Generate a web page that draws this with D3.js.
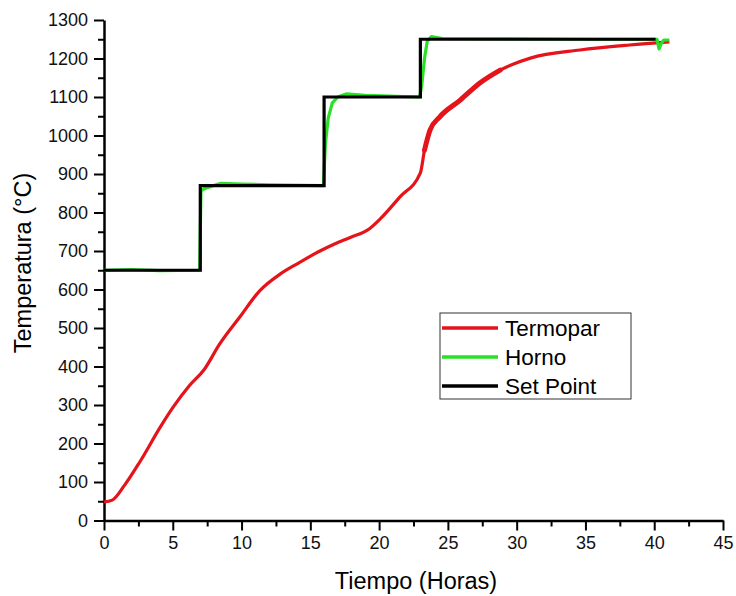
<!DOCTYPE html>
<html lang="es">
<head>
<meta charset="UTF-8">
<title>Temperatura</title>
<style>
    body { margin: 0; background: white; }
    svg { display: block; font-family: "Liberation Sans", Arial, sans-serif; }
</style>
</head>
<body>
<script src="https://d3js.org/d3.v7.min.js"></script>
<script>
// Termopar (thermocouple) reading
let termoT = [0, 0.6, 1.5, 2.6, 4.1, 5, 6.2, 7.3, 8.4, 9.9, 11.3, 12.8, 14.2, 15.7, 16.8, 17.9, 19.3, 20.1, 21.5, 23, 23.3, 23.7, 24.4, 25.9, 27.3, 28.8, 31, 34.6, 38.2, 41.1];
let termoV = [48, 53, 92, 152, 243, 293, 350, 393, 458, 530, 596, 640, 670, 700, 719, 735, 758, 784, 840, 903, 962, 1014, 1048, 1092, 1136, 1170, 1201, 1222, 1235, 1243];

// Horno (furnace) reading
let hornoT = [0, 2, 4, 6.95, 7.05, 7.3, 7.8, 8.5, 10, 12, 15.95, 16.1, 16.3, 16.6, 17, 17.6, 19, 22.95, 23.1, 23.3, 23.5, 23.8, 24.6, 35, 40.2, 40.35, 40.5, 40.7, 41.1];
let hornoV = [650, 652, 649, 650, 856, 862, 868, 876, 874, 872, 870, 980, 1045, 1085, 1100, 1108, 1104, 1100, 1130, 1200, 1245, 1257, 1252, 1250, 1250, 1225, 1238, 1248, 1248];

// Set Point
let setT = [0, 7, 7, 16, 16, 23, 23, 40.1];
let setV = [650, 650, 870, 870, 1100, 1100, 1250, 1250];

let xTicks = [0, 5, 10, 15, 20, 25, 30, 35, 40, 45];
let yTicks = [0, 100, 200, 300, 400, 500, 600, 700, 800, 900, 1000, 1100, 1200, 1300];

let seriesNames = ['Termopar', 'Horno', 'Set Point'];
let seriesColors = ['#e5131a', '#27e027', '#000000'];

{
    let W = 736, H = 596;
    let mLeft = 104, mRight = 723, mTop = 20, mBottom = 520.5;

    let svg = d3.select('body').append('svg')
        .attr('width', W).attr('height', H);

    let x = d3.scaleLinear().domain([0, 45]).range([mLeft, mRight]);
    let y = d3.scaleLinear().domain([0, 1300]).range([mBottom, mTop]);

    // minor ticks first
    svg.append('g')
        .attr('transform', `translate(0,${mBottom})`)
        .call(d3.axisBottom(x).tickValues(d3.range(2.5, 45, 5)).tickSize(6).tickFormat(''))
        .call(g => g.select('.domain').remove());
    svg.append('g')
        .attr('transform', `translate(${mLeft},0)`)
        .call(d3.axisLeft(y).tickValues(d3.range(50, 1300, 100)).tickSize(6).tickFormat(''))
        .call(g => g.select('.domain').remove());

    svg.append('g')
        .attr('transform', `translate(0,${mBottom})`)
        .call(d3.axisBottom(x).tickValues(xTicks).tickFormat(d3.format('d'))
            .tickSize(10).tickSizeOuter(0).tickPadding(6));
    svg.append('g')
        .attr('transform', `translate(${mLeft},0)`)
        .call(d3.axisLeft(y).tickValues(yTicks).tickFormat(d3.format('d'))
            .tickSize(10).tickSizeOuter(0).tickPadding(6));

    svg.selectAll('.tick line').attr('stroke', '#000').attr('stroke-width', 2);
    svg.selectAll('.domain').attr('stroke', '#000').attr('stroke-width', 2.5);
    svg.selectAll('.tick text')
        .attr('font-size', 18)
        .attr('font-family', '"Liberation Sans", Arial, sans-serif')
        .attr('fill', '#111');

    // axis titles
    svg.append('text')
        .attr('x', 416).attr('y', 589)
        .attr('text-anchor', 'middle')
        .attr('font-size', 23.5)
        .text('Tiempo (Horas)');
    svg.append('text')
        .attr('transform', 'translate(31,263) rotate(-90)')
        .attr('text-anchor', 'middle')
        .attr('font-size', 23.5)
        .text('Temperatura (°C)');

    let line = d3.line().x(d => x(d[0])).y(d => y(d[1]));
    let smooth = d3.line().x(d => x(d[0])).y(d => y(d[1])).curve(d3.curveMonotoneX);

    let termo = d3.zip(termoT, termoV);
    let horno = d3.zip(hornoT, hornoV);
    let setp = d3.zip(setT, setV);

    svg.append('path').datum(termo)
        .attr('d', smooth).attr('fill', 'none')
        .attr('stroke', seriesColors[0]).attr('stroke-width', 3.2);
    // noisy stretch of the thermocouple after the last step
    svg.append('path').datum(termo.filter(d => d[0] >= 23.3 && d[0] <= 28.8))
        .attr('d', smooth).attr('fill', 'none')
        .attr('stroke', seriesColors[0]).attr('stroke-width', 5)
        .attr('stroke-linecap', 'round');

    svg.append('path').datum(horno)
        .attr('d', line).attr('fill', 'none')
        .attr('stroke', seriesColors[1]).attr('stroke-width', 3.2)
        .attr('stroke-linejoin', 'round');

    svg.append('path').datum(setp)
        .attr('d', line).attr('fill', 'none')
        .attr('stroke', seriesColors[2]).attr('stroke-width', 3.2);

    // legend
    let lg = svg.append('g');
    lg.append('rect')
        .attr('x', 440).attr('y', 313).attr('width', 191).attr('height', 86)
        .attr('fill', 'white').attr('stroke', '#333').attr('stroke-width', 1);
    seriesNames.forEach((name, i) => {
        let yy = 328 + i * 29;
        lg.append('line')
            .attr('x1', 442).attr('x2', 498).attr('y1', yy).attr('y2', yy)
            .attr('stroke', seriesColors[i]).attr('stroke-width', 3.5);
        lg.append('text')
            .attr('x', 505).attr('y', yy + 8)
            .attr('font-size', 22.5)
            .text(name);
    });
}
</script>
</body>
</html>
